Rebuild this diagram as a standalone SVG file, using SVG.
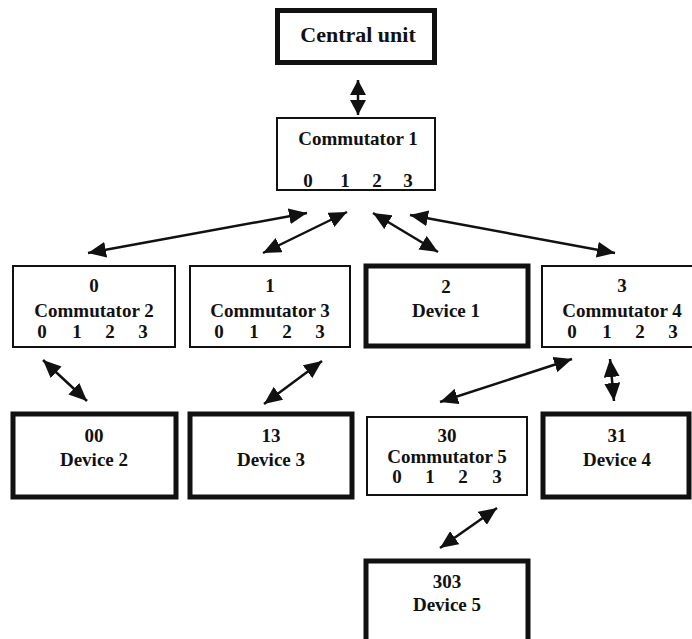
<svg xmlns="http://www.w3.org/2000/svg" width="692" height="639" viewBox="0 0 692 639">
  <style>
    .box { fill: #fff; stroke: #111; stroke-width: 2; }
    .dev { fill: #fff; stroke: #111; stroke-width: 5; }
    text { font-family: "Liberation Serif", "Times New Roman", serif; font-weight: bold; font-size: 19px; fill: #111; text-anchor: middle; }
    .title { font-size: 22px; }
    .link { stroke: #111; stroke-width: 2.5; fill: none; marker-start: url(#head); marker-end: url(#head); }
    .link.short { marker-start: url(#head-s); marker-end: url(#head-s); }
  </style>
  <defs>
    <marker id="head" viewBox="0 0 18 16" markerWidth="18" markerHeight="16" refX="18" refY="8" orient="auto-start-reverse" markerUnits="userSpaceOnUse">
      <path d="M0,0 L18,8 L0,16 z" fill="#111"/>
    </marker>
    <marker id="head-s" viewBox="0 0 15 16" markerWidth="15" markerHeight="16" refX="15" refY="8" orient="auto-start-reverse" markerUnits="userSpaceOnUse">
      <path d="M0,0 L15,8 L0,16 z" fill="#111"/>
    </marker>
  </defs>
  <rect width="692" height="639" fill="#fff"/>

  <!-- connectors -->
  <g id="connectors">
    <line class="link short" x1="358" y1="80" x2="358" y2="115"/>
    <line class="link" x1="88" y1="253" x2="307" y2="213"/>
    <line class="link" x1="263" y1="253" x2="347" y2="212"/>
    <line class="link" x1="373" y1="213" x2="438" y2="252"/>
    <line class="link" x1="410" y1="215" x2="615" y2="253"/>
    <line class="link" x1="43" y1="360" x2="87" y2="401"/>
    <line class="link" x1="322" y1="361" x2="264" y2="404"/>
    <line class="link" x1="572" y1="359" x2="440" y2="402"/>
    <line class="link" x1="610" y1="359" x2="614" y2="401"/>
    <line class="link" x1="497" y1="508" x2="440" y2="548"/>
  </g>

  <!-- top level -->
  <g id="central-unit">
    <rect class="dev" x="277.5" y="10.5" width="157" height="52"/>
    <text class="title" x="358" y="42">Central unit</text>
  </g>
  <g id="commutator-1">
    <rect class="box" x="277" y="118" width="158" height="72"/>
    <text x="358" y="145">Commutator 1</text>
    <text x="308" y="187">0</text>
    <text x="345" y="187">1</text>
    <text x="377" y="187">2</text>
    <text x="408" y="187">3</text>
  </g>

  <!-- second level -->
  <g id="commutator-2">
    <rect class="box" x="13" y="266" width="162" height="81"/>
    <text x="94" y="292">0</text>
    <text x="94" y="317">Commutator 2</text>
    <text x="42" y="338">0</text>
    <text x="77" y="338">1</text>
    <text x="110" y="338">2</text>
    <text x="143" y="338">3</text>
  </g>
  <g id="commutator-3">
    <rect class="box" x="190" y="266" width="160" height="81"/>
    <text x="270" y="292">1</text>
    <text x="270" y="317">Commutator 3</text>
    <text x="219" y="338">0</text>
    <text x="254" y="338">1</text>
    <text x="287" y="338">2</text>
    <text x="320" y="338">3</text>
  </g>
  <g id="device-1">
    <rect class="dev" x="366" y="266" width="162" height="80"/>
    <text x="446" y="293">2</text>
    <text x="446" y="317">Device 1</text>
  </g>
  <g id="commutator-4">
    <rect class="box" x="542" y="266" width="162" height="81"/>
    <text x="622" y="292">3</text>
    <text x="622" y="317">Commutator 4</text>
    <text x="572" y="338">0</text>
    <text x="607" y="338">1</text>
    <text x="640" y="338">2</text>
    <text x="673" y="338">3</text>
  </g>

  <!-- third level -->
  <g id="device-2">
    <rect class="dev" x="13" y="414" width="163" height="83"/>
    <text x="94" y="442">00</text>
    <text x="94" y="466">Device 2</text>
  </g>
  <g id="device-3">
    <rect class="dev" x="190" y="414" width="162" height="83"/>
    <text x="271" y="442">13</text>
    <text x="271" y="466">Device 3</text>
  </g>
  <g id="commutator-5">
    <rect class="box" x="367" y="417" width="160" height="78"/>
    <text x="447" y="442">30</text>
    <text x="447" y="463">Commutator 5</text>
    <text x="397" y="483">0</text>
    <text x="430" y="483">1</text>
    <text x="463" y="483">2</text>
    <text x="497" y="483">3</text>
  </g>
  <g id="device-4">
    <rect class="dev" x="543" y="414" width="146" height="83"/>
    <text x="617" y="442">31</text>
    <text x="617" y="466">Device 4</text>
  </g>

  <!-- fourth level -->
  <g id="device-5">
    <rect class="dev" x="366" y="561" width="162" height="90"/>
    <text x="447" y="588">303</text>
    <text x="447" y="611">Device 5</text>
  </g>
</svg>
